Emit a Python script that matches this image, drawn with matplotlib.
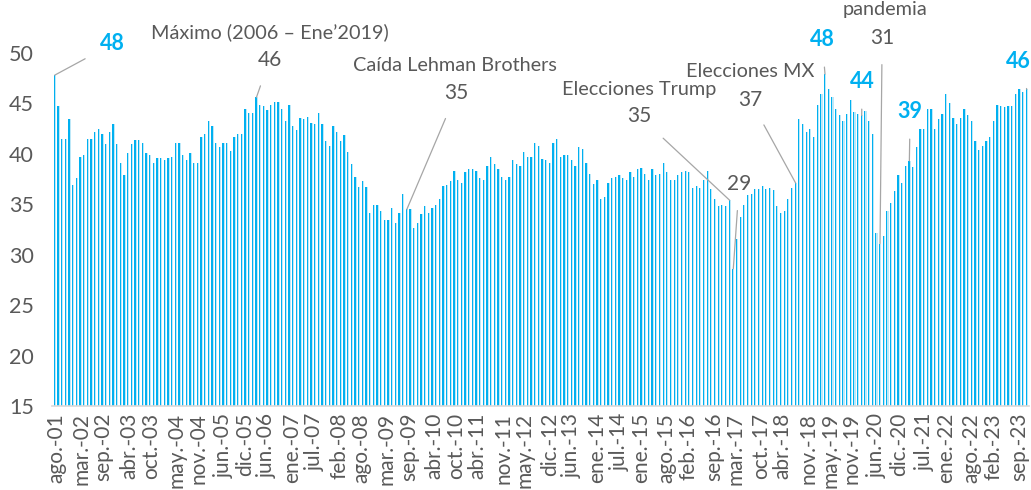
import matplotlib
matplotlib.use("Agg")
import matplotlib.pyplot as plt

plt.rcParams['font.family'] = ['Lato', 'DejaVu Sans']

# Índice mensual, ago-2001 a sep-2023
valores = [
    47.8, 44.7, 41.5, 41.5, 43.5, 36.9, 37.6, 39.7, 39.9, 41.5, 41.5, 42.2,
    42.5, 42.0, 41.0, 42.2, 43.0, 41.0, 39.1, 37.9, 40.1, 41.0, 41.4, 41.4,
    41.1, 40.1, 39.9, 39.1, 39.6, 39.6, 39.4, 39.6, 39.7, 41.1, 41.1, 39.9,
    39.4, 40.1, 39.1, 39.1, 41.7, 42.0, 43.3, 42.8, 41.1, 40.7, 41.1, 41.1,
    40.3, 41.7, 42.0, 42.0, 44.4, 44.0, 44.0, 45.6, 44.8, 44.7, 44.3, 44.8,
    45.1, 45.1, 44.4, 43.3, 44.8, 42.8, 42.4, 43.6, 43.5, 43.7, 43.1, 43.0,
    44.0, 43.0, 41.3, 40.8, 42.8, 42.2, 41.3, 41.9, 40.2, 39.0, 37.7, 36.7,
    37.3, 36.7, 34.1, 34.9, 34.9, 34.3, 33.4, 33.4, 34.6, 33.1, 34.1, 36.0,
    34.5, 34.5, 32.6, 33.1, 34.0, 34.8, 34.1, 34.6, 34.9, 35.5, 36.8, 36.9,
    37.3, 38.3, 37.4, 37.1, 38.2, 38.5, 38.5, 38.3, 37.6, 37.4, 38.8, 39.7,
    39.0, 38.5, 37.7, 37.4, 37.7, 39.4, 39.0, 38.8, 40.2, 39.7, 39.7, 41.1,
    40.8, 39.5, 39.4, 39.1, 41.1, 41.5, 39.7, 39.9, 39.9, 39.4, 38.8, 40.7,
    40.5, 39.1, 38.0, 37.0, 37.4, 35.5, 35.7, 37.1, 37.6, 37.7, 37.9, 37.6,
    37.4, 38.2, 37.7, 38.5, 38.6, 38.0, 37.4, 38.5, 37.9, 38.0, 39.1, 38.2,
    37.4, 37.4, 37.9, 38.2, 38.3, 38.2, 36.6, 36.8, 36.6, 37.4, 38.3, 36.5,
    35.5, 34.8, 34.9, 34.8, 35.4, 28.6, 31.6, 33.7, 34.9, 35.9, 36.0, 36.5,
    36.5, 36.8, 36.5, 36.6, 36.4, 34.8, 34.1, 34.3, 35.5, 36.6, 37.1, 43.5,
    43.0, 42.2, 42.5, 41.7, 44.8, 45.9, 47.9, 46.4, 45.6, 44.4, 43.8, 43.3,
    43.9, 45.3, 44.1, 43.9, 43.8, 44.2, 43.3, 42.0, 32.2, 31.1, 31.9, 34.3,
    35.1, 36.3, 37.9, 37.1, 38.8, 39.3, 38.7, 40.7, 42.5, 42.5, 44.4, 44.4,
    42.5, 43.5, 43.9, 45.9, 45.0, 43.6, 43.0, 43.6, 44.4, 43.8, 43.3, 41.3,
    40.4, 40.8, 41.3, 41.7, 43.3, 44.8, 44.7, 44.6, 44.7, 44.7, 45.9, 46.4,
    46.1, 46.4,
]

etiquetas_x = [
    'ago.-01', 'mar.-02', 'sep.-02', 'abr.-03', 'oct.-03', 'may.-04', 'nov.-04',
    'jun.-05', 'dic.-05', 'jun.-06', 'ene.-07', 'jul.-07', 'feb.-08', 'ago.-08',
    'mar.-09', 'sep.-09', 'abr.-10', 'oct.-10', 'abr.-11', 'nov.-11', 'may.-12',
    'dic.-12', 'jun.-13', 'ene.-14', 'jul.-14', 'ene.-15', 'ago.-15', 'feb.-16',
    'sep.-16', 'mar.-17', 'oct.-17', 'abr.-18', 'nov.-18', 'may.-19', 'nov.-19',
    'jun.-20', 'dic.-20', 'jul.-21', 'ene.-22', 'ago.-22', 'feb.-23', 'sep.-23',
]

meses = {'ene': 1, 'feb': 2, 'mar': 3, 'abr': 4, 'may': 5, 'jun': 6,
         'jul': 7, 'ago': 8, 'sep': 9, 'oct': 10, 'nov': 11, 'dic': 12}


def indice_mes(etq):
    m, a = etq.split('.-')
    return (2000 + int(a) - 2001) * 12 + meses[m] - 8


AZUL = '#00B0F0'
AZUL_CLARO = '#BDE8F8'
GRIS = '#595959'
LINEA = '#A6A6A6'
FS_TXT = 14.3
FS_NUM = 15

fig = plt.figure(figsize=(10.31, 4.90), dpi=100)
ax = fig.add_axes([0.0504, 0.1714, 0.9476, 0.8286])

x = list(range(len(valores)))
ax.bar(x, valores, width=0.34, color=AZUL, align='edge', linewidth=0)
ax.bar([i + 0.34 for i in x], valores, width=0.28, color=AZUL_CLARO,
       align='edge', linewidth=0)

ax.set_xlim(-0.45, len(valores) - 0.1)
ax.set_ylim(15, 55.25)
ax.set_yticks(range(15, 51, 5))
# las etiquetas del eje quedan un poco más juntas que las barras
ax.set_xticks([indice_mes(e) * 0.99 + 0.8 for e in etiquetas_x])
ax.set_xticklabels(etiquetas_x, rotation=90)
ax.tick_params(axis='both', length=0, colors=GRIS)
ax.tick_params(axis='x', pad=5, labelsize=15)
ax.tick_params(axis='y', pad=13, labelsize=15.5)

for s in ['top', 'right', 'left']:
    ax.spines[s].set_visible(False)
ax.spines['bottom'].set_color('#D9D9D9')
ax.spines['bottom'].set_linewidth(1.2)


# posiciones de texto en píxeles de la imagen -> datos
def pos(px, py):
    return ((px - 54) / 3.67, 50 - (py - 53) / 10.09)


def nota(i, texto, px, py, color=GRIS, bold=False, fs=FS_NUM):
    xt, yt = pos(px, py)
    ax.annotate(texto, xy=(i + 0.3, valores[i]), xytext=(xt, yt),
                ha='center', va='center', fontsize=fs, color=color,
                fontweight='bold' if bold else 'normal',
                arrowprops=dict(arrowstyle='-', color=LINEA, lw=0.9,
                                shrinkA=10, shrinkB=0))


def titulo(texto, px, py):
    ax.text(*pos(px, py), texto, ha='center', va='center',
            fontsize=FS_TXT, color=GRIS)


# etiquetas azules
nota(0, '48', 113, 44, AZUL, True, 15.5)
nota(210, '48', 823, 40, AZUL, True, 15.5)
nota(220, '44', 863, 82, AZUL, True, 15.5)
nota(233, '39', 911, 112, AZUL, True, 15.5)
nota(265, '46', 1019, 62, AZUL, True, 15.5)

# etiquetas de eventos
nota(55, '46', 270, 60)
titulo('Máximo (2006 – Ene\u20192019)', 270, 32)
nota(96, '35', 457, 93)
titulo('Caída Lehman Brothers', 456, 66)
nota(184, '35', 640, 116)
titulo('Elecciones Trump', 640, 90)
nota(185, '29', 740, 184)
nota(202, '37', 751, 100)
titulo('Elecciones MX', 751, 72)
nota(225, '31', 883, 38)
titulo('pandemia', 886, 10)

fig.savefig('out.png', dpi=100)
